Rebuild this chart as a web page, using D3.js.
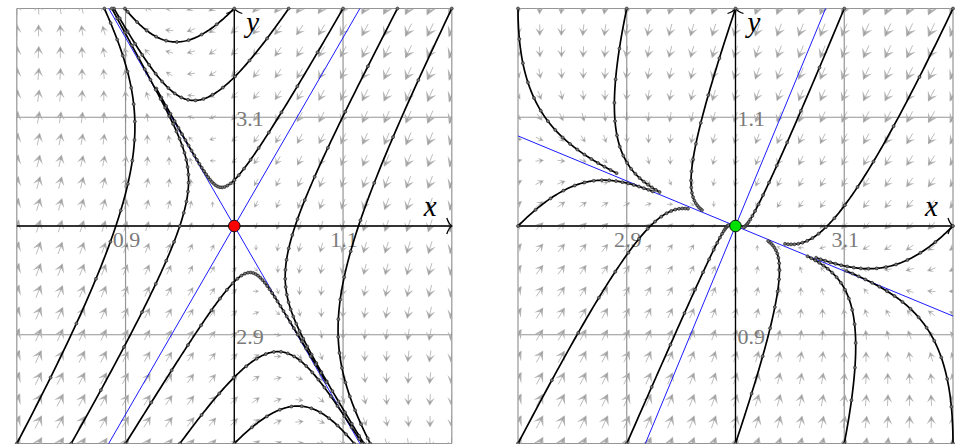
<!DOCTYPE html>
<html>
<head>
<meta charset="utf-8">
<script src="https://cdn.jsdelivr.net/npm/d3@7"></script>
<style>
  body { margin: 0; background: #fff; }
  svg { display: block; }
  .tick-label { font-family: "Liberation Serif", "DejaVu Serif", serif; font-size: 22px; fill: #7a7a7a; }
  .axis-name { font-family: "Liberation Serif", "DejaVu Serif", serif; font-style: italic; font-size: 29px; fill: #000; }
</style>
</head>
<body>
<svg id="chart" width="962" height="444"></svg>
<script>
// system:  x' = 4 - x - y ,  y' = 3 - x*y
var xdotCoef = [4, -1, -1];   // c + a*x + b*y
var ydotCoef = [3, -1];       // c + d*x*y

// left panel (saddle)
var leftXDomain = [0.8, 1.2];
var leftYDomain = [2.8, 3.2];
var leftXTicks = ["0.9", "1.1"];
var leftYTicks = ["2.9", "3.1"];
var leftEq = [1, 3];
var leftEqColor = "#ff0000";
var leftSlopes = [1.732, -1.732];
var leftSeeds = [[1.0, 3.2], [1.05, 3.2], [1.1, 3.2], [1.15, 3.2], [1.2, 3.2],
                 [0.8, 2.8], [0.85, 2.8], [0.9, 2.8], [0.95, 2.8], [1.0, 2.8]];
var leftSteps = [36, 36, 36, 36, 36, 36, 36, 36, 36, 36];

// right panel (stable node)
var rightXDomain = [2.8, 3.2];
var rightYDomain = [0.8, 1.2];
var rightXTicks = ["2.9", "3.1"];
var rightYTicks = ["0.9", "1.1"];
var rightEq = [3, 1];
var rightEqColor = "#00e000";
var rightSlopes = [2.414, -0.414];
var rightSeeds = [[2.8, 1.2], [2.9, 1.2], [3.0, 1.2], [3.1, 1.2], [3.2, 1.2],
                  [2.8, 0.8], [2.9, 0.8], [3.0, 0.8], [3.1, 0.8], [3.2, 0.8],
                  [2.8, 1.0], [3.2, 1.0]];
var rightSteps = [16, 16, 16, 16, 16, 16, 16, 16, 16, 16, 16, 16];

var gridStep = 0.02;   // spacing of the direction field
var dt = 0.088;        // time between dots on a trajectory

var svg = d3.select("#chart");

function field(p) {
  return [xdotCoef[0] + xdotCoef[1] * p[0] + xdotCoef[2] * p[1],
          ydotCoef[0] + ydotCoef[1] * p[0] * p[1]];
}

function rk4(p, h) {
  var k1 = field(p);
  var k2 = field([p[0] + h / 2 * k1[0], p[1] + h / 2 * k1[1]]);
  var k3 = field([p[0] + h / 2 * k2[0], p[1] + h / 2 * k2[1]]);
  var k4 = field([p[0] + h * k3[0], p[1] + h * k3[1]]);
  return [p[0] + h / 6 * (k1[0] + 2 * k2[0] + 2 * k3[0] + k4[0]),
          p[1] + h / 6 * (k1[1] + 2 * k2[1] + 2 * k3[1] + k4[1])];
}

function trace(seed, steps, xd, yd) {
  var eps = 1e-9, sub = 10, h = dt / sub;
  var p = seed, pts = [seed], dots = [seed];
  for (var i = 0; i < steps; i++) {
    for (var k = 0; k < sub; k++) {
      var q = rk4(p, h);
      var t = 1;
      if (q[0] < xd[0] - eps) t = Math.min(t, (xd[0] - p[0]) / (q[0] - p[0]));
      if (q[0] > xd[1] + eps) t = Math.min(t, (xd[1] - p[0]) / (q[0] - p[0]));
      if (q[1] < yd[0] - eps) t = Math.min(t, (yd[0] - p[1]) / (q[1] - p[1]));
      if (q[1] > yd[1] + eps) t = Math.min(t, (yd[1] - p[1]) / (q[1] - p[1]));
      if (t < 1) {
        var e = [p[0] + t * (q[0] - p[0]), p[1] + t * (q[1] - p[1])];
        pts.push(e); dots.push(e);
        return {pts: pts, dots: dots};
      }
      pts.push(q);
      p = q;
    }
    dots.push(p);
  }
  return {pts: pts, dots: dots};
}

function drawPanel(id, px0, px1, py0, py1, xd, yd, xTicks, yTicks, eq, eqColor, slopes, seeds, steps) {
  var x = d3.scaleLinear().domain(xd).range([px0, px1]);
  var y = d3.scaleLinear().domain(yd).range([py1, py0]);
  var g = svg.append("g");

  svg.append("defs").append("clipPath").attr("id", "clip-" + id)
    .append("rect").attr("x", px0).attr("y", py0).attr("width", px1 - px0).attr("height", py1 - py0);

  // grid lines every 0.1
  var gridVals = d3.range(0, 5).map(function(i) { return i * 0.1; });
  g.append("g").selectAll("line.gx").data(gridVals).enter().append("line")
    .attr("x1", function(d) { return x(xd[0] + d); }).attr("x2", function(d) { return x(xd[0] + d); })
    .attr("y1", py0).attr("y2", py1)
    .style("stroke", "#959595").style("stroke-width", 1.2);
  g.append("g").selectAll("line.gy").data(gridVals).enter().append("line")
    .attr("y1", function(d) { return y(yd[0] + d); }).attr("y2", function(d) { return y(yd[0] + d); })
    .attr("x1", px0).attr("x2", px1)
    .style("stroke", "#959595").style("stroke-width", 1.2);

  // direction field
  var pts = [];
  var n = Math.round((xd[1] - xd[0]) / gridStep);
  for (var i = 0; i <= n; i++) {
    for (var j = 0; j <= n; j++) {
      pts.push([xd[0] + i * gridStep, yd[0] + j * gridStep]);
    }
  }
  var arrows = g.append("g").attr("clip-path", "url(#clip-" + id + ")");
  pts.forEach(function(p) {
    var v = field(p);
    var mag = Math.sqrt(v[0] * v[0] + v[1] * v[1]);
    if (mag < 1e-9) return;
    var ux = v[0] / mag, uy = -v[1] / mag;
    var L = Math.min(16, 14 * Math.pow(mag / 0.63, 0.3));
    var cx = x(p[0]), cy = y(p[1]);
    var tx = cx + ux * L / 2, ty = cy + uy * L / 2;
    var sx = cx - ux * L / 2, sy = cy - uy * L / 2;
    var hl = 0.7 * L, hw = 0.38 * L;
    var nx = -uy, ny = ux;
    var head = "M" + tx + "," + ty +
      "L" + (tx - ux * hl + nx * hw) + "," + (ty - uy * hl + ny * hw) +
      "L" + (tx - ux * hl * 0.55) + "," + (ty - uy * hl * 0.55) +
      "L" + (tx - ux * hl - nx * hw) + "," + (ty - uy * hl - ny * hw) + "Z";
    arrows.append("path").attr("d", head)
      .style("fill", "#b3b3b3");
    arrows.append("line")
      .attr("x1", sx).attr("y1", sy).attr("x2", tx - ux * 2).attr("y2", ty - uy * 2)
      .style("stroke", "#7a7a7a").style("stroke-width", 0.5);
  });

  // eigenvector lines
  var blue = g.append("g").attr("clip-path", "url(#clip-" + id + ")");
  slopes.forEach(function(m) {
    var span = 1;
    blue.append("line")
      .attr("x1", x(eq[0] - span)).attr("y1", y(eq[1] - m * span))
      .attr("x2", x(eq[0] + span)).attr("y2", y(eq[1] + m * span))
      .style("stroke", "#0000ff").style("stroke-width", 0.9);
  });

  // axes
  var ax = g.append("g").style("stroke", "#000").style("fill", "none").style("stroke-width", 1.3);
  ax.append("line").attr("x1", px0).attr("x2", px1 - 1).attr("y1", y(eq[1])).attr("y2", y(eq[1]));
  ax.append("line").attr("x1", x(eq[0])).attr("x2", x(eq[0])).attr("y1", py1).attr("y2", py0 + 1);
  var ex = px1, ey = y(eq[1]);
  ax.append("path").attr("d", "M" + (ex - 5) + "," + (ey - 8) + "Q" + (ex - 3) + "," + (ey - 2) + " " + ex + "," + ey +
    "Q" + (ex - 3) + "," + (ey + 2) + " " + (ex - 5) + "," + (ey + 8));
  var fx = x(eq[0]), fy = py0;
  ax.append("path").attr("d", "M" + (fx - 8) + "," + (fy + 5) + "Q" + (fx - 2) + "," + (fy + 3) + " " + fx + "," + fy +
    "Q" + (fx + 2) + "," + (fy + 3) + " " + (fx + 8) + "," + (fy + 5));

  // tick labels
  var xLabelVals = [xd[0] + 0.1, xd[0] + 0.3];
  g.selectAll("text.xt").data(xTicks).enter().append("text")
    .attr("class", "tick-label")
    .attr("x", function(d, i) { return x(xLabelVals[i]) + 1; })
    .attr("y", y(eq[1]) + 21)
    .attr("text-anchor", "middle")
    .text(function(d) { return d; });
  var yLabelVals = [yd[0] + 0.1, yd[0] + 0.3];
  g.selectAll("text.yt").data(yTicks).enter().append("text")
    .attr("class", "tick-label")
    .attr("x", x(eq[0]) + 2)
    .attr("y", function(d, i) { return y(yLabelVals[i]) + 9; })
    .text(function(d) { return d; });

  g.append("text").attr("class", "axis-name").attr("x", px1 - 28).attr("y", y(eq[1]) - 10).text("x");
  g.append("text").attr("class", "axis-name").attr("x", x(eq[0]) + 12).attr("y", py0 + 23).text("y");

  // trajectories
  var line = d3.line().x(function(d) { return x(d[0]); }).y(function(d) { return y(d[1]); });
  var tr = g.append("g");
  seeds.forEach(function(s, i) {
    var r = trace(s, steps[i], xd, yd);
    tr.append("path").attr("d", line(r.pts))
      .style("fill", "none").style("stroke", "#000").style("stroke-width", 1.7);
    tr.selectAll(null).data(r.dots).enter().append("circle")
      .attr("cx", function(d) { return x(d[0]); })
      .attr("cy", function(d) { return y(d[1]); })
      .attr("r", 1.5)
      .style("fill", "#777").style("stroke", "#1a1a1a").style("stroke-width", 0.6);
  });

  // equilibrium
  g.append("circle").attr("cx", x(eq[0])).attr("cy", y(eq[1])).attr("r", 5.8)
    .style("fill", eqColor).style("stroke", "#000").style("stroke-width", 0.9);
}

drawPanel("l", 16.8, 451.8, 8.5, 443.5, leftXDomain, leftYDomain, leftXTicks, leftYTicks,
  leftEq, leftEqColor, leftSlopes, leftSeeds, leftSteps);
drawPanel("r", 518, 953, 8.5, 443.5, rightXDomain, rightYDomain, rightXTicks, rightYTicks,
  rightEq, rightEqColor, rightSlopes, rightSeeds, rightSteps);
</script>
</body>
</html>
